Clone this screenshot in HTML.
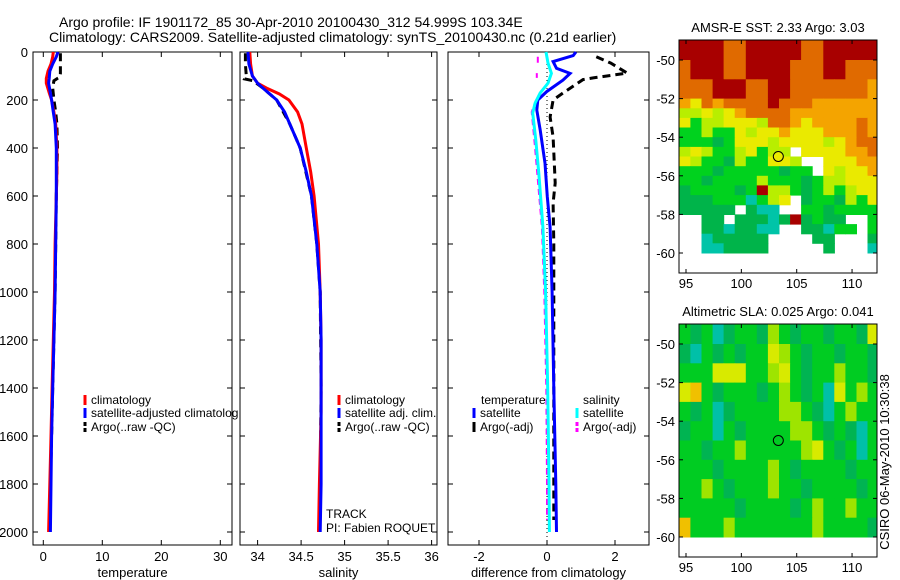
<!DOCTYPE html>
<html><head><meta charset="utf-8"><style>
body{margin:0;background:#fff;}
svg{display:block;font-family:"Liberation Sans",sans-serif;}
text{fill:#000;}
</style></head><body>
<svg id="c" width="900" height="580" viewBox="0 0 900 580">
<text x="59" y="27" font-size="14">Argo profile: IF 1901172_85 30-Apr-2010 20100430_312 54.999S 103.34E</text>
<text x="49" y="42" font-size="14">Climatology: CARS2009. Satellite-adjusted climatology: synTS_20100430.nc (0.21d earlier)</text>
<g id="g"></g>
</svg>
<script>
// ---------- data ----------
const yTicks=[0,200,400,600,800,1000,1200,1400,1600,1800,2000];
const tTicks=[0,10,20,30];
const sTicks=[34,34.5,35,35.5,36];
const sTickLabels=["34","34.5","35","35.5","36"];
const dTicks=[-2,0,2];
const tDepth=[0,20,50,80,110,130,170,200,250,300,400,500,600,800,1000,1200,1400,1600,1800,2000];
const tClim=[1.7,1.6,1.3,0.8,0.5,0.5,1.0,1.4,1.8,2.1,2.3,2.3,2.2,2.0,1.9,1.7,1.5,1.3,1.1,0.9];
const tSat=[2.5,2.2,1.6,1.1,1.0,0.9,1.2,1.4,1.7,2.0,2.2,2.2,2.2,2.1,2.0,1.8,1.6,1.4,1.3,1.2];
const tArgoDepth=[5,20,50,90,105,110,120,150,200,250,300,400,500,600,800,1000,1200,1400,1600,1800,1950];
const tArgo=[2.9,2.9,2.9,2.9,2.8,2.4,1.8,1.6,1.8,2.1,2.3,2.4,2.3,2.2,2.1,2.0,1.8,1.6,1.4,1.2,1.1];
const sDepth=[0,50,100,130,150,175,200,250,300,400,500,600,800,1000,1200,1500,1800,2000];
const sClim=[33.91,33.92,33.94,34.0,34.1,34.25,34.36,34.46,34.51,34.56,34.61,34.65,34.70,34.72,34.73,34.73,34.71,34.70];
const sSat=[33.89,33.90,33.94,34.0,34.06,34.14,34.22,34.31,34.37,34.49,34.56,34.62,34.68,34.72,34.73,34.73,34.73,34.72];
const sArgoDepth=[5,50,100,105,112,120,150,200,300,400,600,800,1000,1400,1800,1950];
const sArgo=[33.86,33.86,33.87,33.86,33.85,33.95,34.06,34.22,34.37,34.49,34.62,34.68,34.72,34.73,34.72,34.72];
const dTSDepth=[0,15,40,68,89,117,165,200,242,325,463,603,730,1000,1400,1800,2000];
const dTS=[0.85,0.77,0.18,0.28,0.68,0.47,-0.01,-0.27,-0.3,-0.2,-0.06,0.01,0.09,0.15,0.2,0.26,0.28];
const dSSDepth=[0,46,89,130,171,213,254,367,505,729,1000,1400,1800,2000];
const dSS=[-0.03,0.03,0.13,0.03,-0.2,-0.35,-0.42,-0.33,-0.24,-0.12,-0.04,0.02,0.06,0.07];
const dTADepth=[20,46,88,108,115,171,200,271,354,546,629,800,1000,1400,1800,1950];
const dTA=[1.45,1.87,2.36,1.36,1.06,0.47,0.18,0.09,0.18,0.24,0.18,0.2,0.2,0.2,0.2,0.2];
const dSADepth=[20,55,null,88,108,null,200,250,400,730,1000,1400,1800,1950];
const dSA=[-0.27,-0.27,null,-0.3,-0.3,null,-0.32,-0.45,-0.35,-0.15,-0.08,-0.02,0.0,0.0];
const mapLatTicks=[-50,-52,-54,-56,-58,-60];
const mapLonTicks=[95,100,105,110];
const sstLatEdges=[-49,-50,-51,-52,-52.5,-53,-53.5,-54,-54.5,-55,-55.5,-56,-56.5,-57,-57.5,-58,-58.5,-59,-59.5,-60];
const sstRows=[
"RRRROORRRRROORRRRR","ORRROORRRROOORROOO","OOORRROORROOOOOOOo",
"oYOoOOOOROOOoooooo","yyYyYoOOOOoooooooo","YGyyYYYyOOoYooooOo",
"GGyGGYyYYoYYYoooOo","GGGgGYYYyYYYYyYoOO","yYyGGyYGyy.YYYYooO",
"YyGGgyGGYYy..YYYoo","GGGgGGGGGgGG.YyYYo","GGgGGGGyGGGgGyyYYY",
"gGGGGgGRyyGgGyGyYY","gggGGGCGyY.gGGgyGY","ggggg.gCC..GGgGGGG",
"..gg.gggCgRgGgg..G","..ggCggCC..ggCGG.G","..Cggggg....gg...g",
"..CCgggg.....g...C"];
const slaLatEdges=[-49,-50,-51,-52,-53,-54,-55,-56,-57,-58,-59,-60];
const slaRows=[
"GgGcgGGgyGgGGgGGgY","gcGgGgGGYyGgGGgGGg","GGGYYYGGyYGgGGyGGg",
"YoGgGGGgGyGgGcYGyG","GgGcgGGGGyyGgcGyGG","gGGcGgGGGGyyGgGgcG",
"GGgGGyGGGGGyYGgGcG","GGGgGGGGyGgGGGGgGG","GGyGgGGGyGGgGGGGgG",
"GGGGGgGGGGgGyGGyGG","oGGGyGGGGGGGyGGGGg"];
// ---------- drawing ----------
const NS='http://www.w3.org/2000/svg';
const G=document.getElementById('g');
function el(t,a,p){const e=document.createElementNS(NS,t);for(const k in a)e.setAttribute(k,a[k]);(p||G).appendChild(e);return e;}
const Y0=52,YB=545;
const yS=d=>Y0+d*0.24;
const panels=[
 {name:'temperature',l:33,r:232,x:v=>43.3+v*5.9,ticks:tTicks,labels:tTicks.map(String),xl:'temperature'},
 {name:'salinity',l:240,r:437,x:v=>257.6+(v-34)*87,ticks:sTicks,labels:sTickLabels,xl:'salinity'},
 {name:'difference',l:448,r:649,x:v=>547+v*34,ticks:dTicks,labels:dTicks.map(String),xl:'difference from climatology'}];
function line(p,depth,vals,col,w,dash,name){
 let d='',pen=false;
 for(let i=0;i<vals.length;i++){
  if(vals[i]===null){pen=false;continue;}
  d+=(pen?'L':'M')+p.x(vals[i]).toFixed(1)+' '+yS(depth[i]).toFixed(1);pen=true;}
 const e=el('path',{d:d,fill:'none',stroke:col,'stroke-width':w,'stroke-dasharray':dash||'none'});
 
 
}
panels.forEach((p,pi)=>{
 const f=el('rect',{x:p.l,y:Y0,width:p.r-p.l,height:YB-Y0,fill:'#fff',stroke:'#000','stroke-width':1});
 
 
 yTicks.forEach(t=>{
  el('line',{x1:p.l,x2:p.l+5,y1:yS(t),y2:yS(t),stroke:'#000'});
  el('line',{x1:p.r,x2:p.r-5,y1:yS(t),y2:yS(t),stroke:'#000'});
  if(pi===0){const tx=el('text',{x:p.l-5,y:yS(t)+5,'font-size':13,'text-anchor':'end'});tx.textContent=t;
   
   }
 });
 p.ticks.forEach((t,i)=>{
  const x=p.x(t);
  el('line',{x1:x,x2:x,y1:YB,y2:YB-5,stroke:'#000'});
  el('line',{x1:x,x2:x,y1:Y0,y2:Y0+5,stroke:'#000'});
  const tx=el('text',{x:x,y:561,'font-size':13,'text-anchor':'middle'});tx.textContent=p.labels[i];
  
  
 });
 const xl=el('text',{x:(p.l+p.r)/2,y:577,'font-size':13,'text-anchor':'middle'});xl.textContent=p.xl;
 
 
});
const [P1,P2,P3]=panels;
line(P1,tArgoDepth,tArgo,'#000',3,'8,5','temp-argo-line');
line(P1,tDepth,tClim,'#f00',3,null,'temp-climatology-line');
line(P1,tDepth,tSat,'#00f',3,null,'temp-satellite-line');
line(P2,sArgoDepth,sArgo,'#000',3,'8,5','sal-argo-line');
line(P2,sDepth,sClim,'#f00',3,null,'sal-climatology-line');
line(P2,sDepth,sSat,'#00f',3,null,'sal-satellite-line');
el('line',{x1:P3.x(0),x2:P3.x(0),y1:Y0,y2:YB,stroke:'#000','stroke-dasharray':'1,3'});
line(P3,dTADepth,dTA,'#000',3,'8,5','temp-argo-diff-line');
line(P3,dSADepth,dSA,'#f0f',2,'6,4','sal-argo-diff-line');
line(P3,dTSDepth,dTS,'#00f',3,null,'temp-satellite-diff-line');
line(P3,dSSDepth,dSS,'#0ff',3,null,'sal-satellite-diff-line');
// legends
function leg(x,y,col,txt,name,dash){
 el('line',{x1:x,x2:x,y1:y-9,y2:y+1,stroke:col,'stroke-width':3,'stroke-dasharray':dash?'4,2':'none'});
 const t=el('text',{x:x+6,y:y,'font-size':12});t.textContent=txt;
 
 
}
leg(85,404,'#f00','climatology','legend-climatology');
leg(85,417,'#00f','satellite-adjusted climatolog','legend-satellite');
leg(85,431,'#000','Argo(..raw -QC)','legend-argo',1);
leg(339,404,'#f00','climatology','legend-climatology-2');
leg(339,417,'#00f','satellite adj. clim.','legend-satellite-2');
leg(339,431,'#000','Argo(..raw -QC)','legend-argo-2',1);
const lt=el('text',{x:481,y:404,'font-size':12});lt.textContent='temperature';


const ls=el('text',{x:583,y:404,'font-size':12});ls.textContent='salinity';


leg(474,417,'#00f','satellite','legend-temp-satellite');
leg(474,431,'#000','Argo(-adj)','legend-temp-argo');
leg(577,417,'#0ff','satellite','legend-sal-satellite');
leg(577,431,'#f0f','Argo(-adj)','legend-sal-argo',1);
const tr=el('text',{x:326,y:518,'font-size':12});tr.textContent='TRACK';


const pi=el('text',{x:326,y:532,'font-size':12});pi.textContent='PI: Fabien ROQUET';


// maps
const COL={R:'#a80000',O:'#e06a00',o:'#f4a400',Y:'#eaea00',y:'#b8ee00',G:'#00d21e',g:'#00b44a',C:'#00c4a8',c:'#00bca0','.':'#fff'};
const SLA={G:'#00cc22',g:'#00b452',c:'#00c0a8',Y:'#d8ea00',y:'#9ee400',o:'#f0c000'};
function map(top,bot,rows,edges,cols,title,name){
 const L=679,R=877;
 const lx=v=>686+(v-95)*11.07, ly=v=>(top+20)+(-50-v)*19.3;
 const titleT=el('text',{x:(L+R)/2,y:top-8,'font-size':13,'text-anchor':'middle'});titleT.textContent=title;
 
 
 rows.forEach((row,ri)=>{
  const la1=edges[ri], la2=edges[ri+1];
  for(let ci=0;ci<row.length;ci++){
   const c=cols[row[ci]]; if(!c||c==='#fff')continue;
   const x1=lx(94.4+ci), x2=Math.min(lx(95.4+ci),R);
   const y1=ri===0?top:ly(la1), y2=ly(la2);
   const r=el('rect',{x:x1.toFixed(1),y:y1.toFixed(1),width:(x2-x1+0.5).toFixed(1),height:(y2-y1+0.5).toFixed(1),fill:c});
   
   
  }
 });
 const fr=el('rect',{x:L,y:top,width:R-L,height:bot-top,fill:'none',stroke:'#000'});
 
 
 mapLatTicks.forEach(t=>{
  el('line',{x1:L,x2:L+4,y1:ly(t),y2:ly(t),stroke:'#000'});
  el('line',{x1:R,x2:R-4,y1:ly(t),y2:ly(t),stroke:'#000'});
  const tx=el('text',{x:L-4,y:ly(t)+5,'font-size':13,'text-anchor':'end'});tx.textContent=t;
  
  
 });
 mapLonTicks.forEach(t=>{
  el('line',{x1:lx(t),x2:lx(t),y1:bot,y2:bot-4,stroke:'#000'});
  el('line',{x1:lx(t),x2:lx(t),y1:top,y2:top+4,stroke:'#000'});
  const tx=el('text',{x:lx(t),y:bot+15,'font-size':13,'text-anchor':'middle'});tx.textContent=t;
  
  
 });
 const mk=el('circle',{cx:lx(103.34),cy:ly(-55),r:5,fill:name==='sst-map'?'#eaea00':'none',stroke:'#000'});
 
 
}
map(40,273,sstRows,sstLatEdges,COL,'AMSR-E SST: 2.33 Argo: 3.03','sst-map');
map(324,557,slaRows,slaLatEdges,SLA,'Altimetric SLA: 0.025 Argo: 0.041','sla-map');
const cs=el('text',{x:0,y:0,'font-size':13,'text-anchor':'middle',transform:'translate(889,462) rotate(-90)'});
cs.textContent='CSIRO 06-May-2010 10:30:38';


</script>
</body></html>
